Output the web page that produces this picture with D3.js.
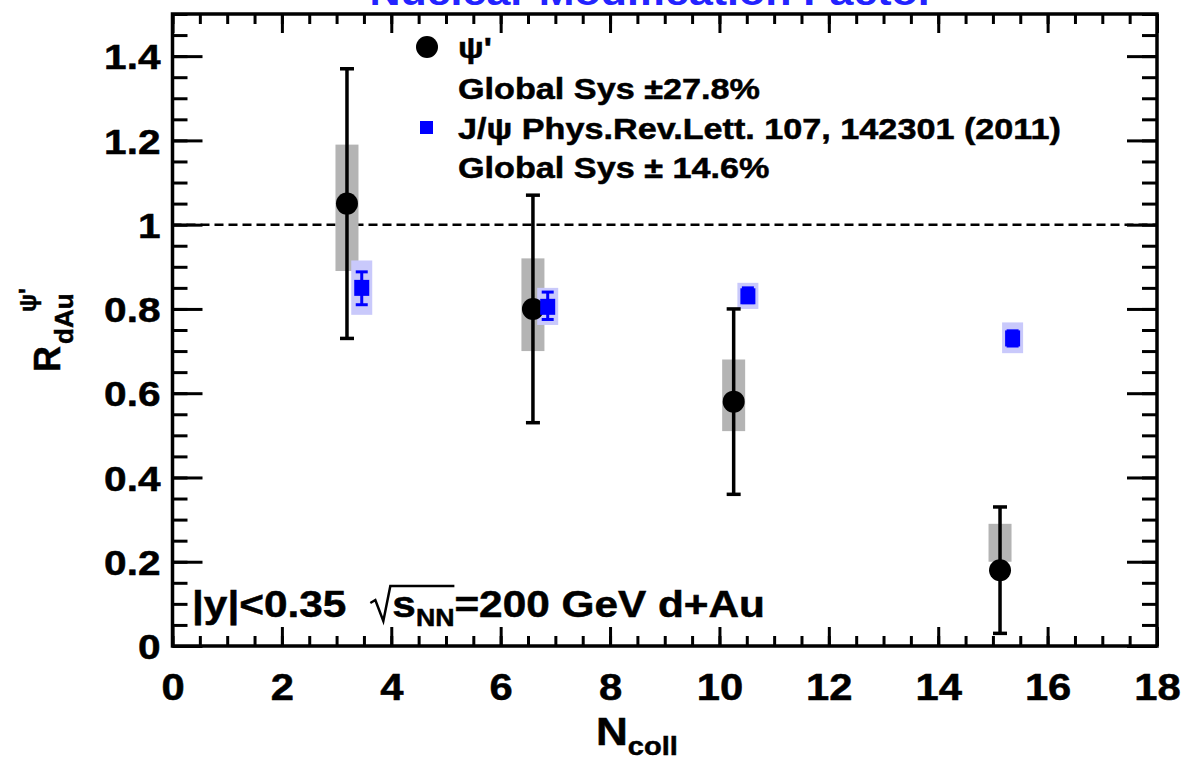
<!DOCTYPE html>
<html>
<head>
<meta charset="utf-8">
<script src="https://cdn.jsdelivr.net/npm/d3@7"></script>
<style>
  html, body { margin: 0; padding: 0; background: #ffffff; }
  svg { display: block; }
  text { font-family: "Liberation Sans", Arial, Helvetica, sans-serif; font-weight: bold; fill: #000; }
  text.ink { stroke: #000; stroke-width: 0.5px; }
</style>
</head>
<body>
<svg id="chart" width="1183" height="760"></svg>
<script>
// psi' nuclear modification factor vs number of binary collisions
const psiNcoll   = [3.19, 6.59, 10.26, 15.13];
const psiR       = [1.05, 0.80, 0.58, 0.18];
const psiStatLo  = [0.73, 0.53, 0.36, 0.03];
const psiStatHi  = [1.37, 1.07, 0.80, 0.33];
const psiSysLo   = [0.89, 0.70, 0.51, 0.20];
const psiSysHi   = [1.19, 0.92, 0.68, 0.29];

// J/psi reference points (PRL 107, 142301)
const jpsiNcoll  = [3.46, 6.86, 10.52, 15.36];
const jpsiR      = [0.85, 0.805, 0.83, 0.73];
const jpsiStatLo = [0.81, 0.775, 0.815, 0.712];
const jpsiStatHi = [0.888, 0.84, 0.85, 0.748];
const jpsiSysLo  = [0.786, 0.762, 0.80, 0.695];
const jpsiSysHi  = [0.915, 0.85, 0.862, 0.768];

const xTickValues = [0, 2, 4, 6, 8, 10, 12, 14, 16, 18];
const xTickLabels = ["0", "2", "4", "6", "8", "10", "12", "14", "16", "18"];
const yTickValues = [0, 0.2, 0.4, 0.6, 0.8, 1.0, 1.2, 1.4];
const yTickLabels = ["0", "0.2", "0.4", "0.6", "0.8", "1", "1.2", "1.4"];
const xDomain = [0, 18];
const yDomain = [0, 1.5];
const unityLine = 1;

const svg = d3.select("#chart");
const W = 1183, H = 760;
const plot = { left: 172.5, right: 1157, top: 14, bottom: 646 };
// glyphs are drawn a little wider than tall, like the rest of the figure
const SX = 1.16;

const x = d3.scaleLinear().domain(xDomain).range([plot.left, plot.right]);
const y = d3.scaleLinear().domain(yDomain).range([plot.bottom, plot.top]);

svg.append("rect").attr("width", W).attr("height", H).attr("fill", "#ffffff");

// place a text element at (tx, ty) with the horizontal stretch applied
function stretched(sel, tx, ty, sx = SX) {
  return sel.attr("x", 0).attr("y", 0)
    .attr("transform", `translate(${tx},${ty}) scale(${sx},1)`);
}

// Title (sits mostly above the canvas)
stretched(svg.append("text"), 652, 5)
  .attr("text-anchor", "middle")
  .style("font-size", "37px")
  .style("fill", "#2323ff")
  .text("Nuclear Modification Factor");

// Minor and major ticks on all four sides
const xMinor = d3.range(xDomain[0], xDomain[1] + 1e-9, 0.5);
const yMinor = d3.range(yDomain[0], yDomain[1] + 1e-9, 0.05);

function tickAxis(axisFn, scale, values, size, transform, fmt) {
  const a = axisFn(scale).tickValues(values).tickSizeInner(size).tickSizeOuter(0);
  if (fmt) a.tickFormat(fmt); else a.tickFormat("");
  const g = svg.append("g").attr("transform", transform).call(a);
  g.select(".domain").remove();
  g.selectAll(".tick line").attr("stroke", "#000").attr("stroke-width", 3);
  return g;
}

// bottom
tickAxis(d3.axisBottom, x, xMinor, -10, `translate(0,${plot.bottom})`);
const xAx = tickAxis(d3.axisBottom, x, xTickValues, -19, `translate(0,${plot.bottom})`,
  (d, i) => xTickLabels[i]);
xAx.selectAll(".tick text").each(function () {
  stretched(d3.select(this), 0, 54).attr("dy", 0);
}).attr("class", "ink").style("font-size", "36px").style("font-family", "Liberation Sans, Arial, sans-serif")
  .style("font-weight", "bold").attr("fill", "#000");
// top
tickAxis(d3.axisTop, x, xMinor, -10, `translate(0,${plot.top})`);
tickAxis(d3.axisTop, x, xTickValues, -19, `translate(0,${plot.top})`);
// left
tickAxis(d3.axisLeft, y, yMinor, -15, `translate(${plot.left},0)`);
const yAx = tickAxis(d3.axisLeft, y, yTickValues, -30, `translate(${plot.left},0)`,
  (d, i) => yTickLabels[i]);
yAx.selectAll(".tick text").each(function () {
  stretched(d3.select(this), -12, 0).attr("dy", "0.36em");
}).attr("class", "ink").style("font-size", "35px").style("font-family", "Liberation Sans, Arial, sans-serif")
  .style("font-weight", "bold").attr("fill", "#000");
// right
tickAxis(d3.axisRight, y, yMinor, -15, `translate(${plot.right},0)`);
tickAxis(d3.axisRight, y, yTickValues, -30, `translate(${plot.right},0)`);

// frame
svg.append("rect")
  .attr("x", plot.left).attr("y", plot.top)
  .attr("width", plot.right - plot.left).attr("height", plot.bottom - plot.top)
  .attr("fill", "none").attr("stroke", "#000").attr("stroke-width", 3.5);

// dashed line at R = 1
svg.append("line")
  .attr("x1", x(xDomain[0])).attr("x2", x(xDomain[1]))
  .attr("y1", y(unityLine)).attr("y2", y(unityLine))
  .attr("stroke", "#000").attr("stroke-width", 2.5)
  .attr("stroke-dasharray", "9,5");

// build point records
const psi = psiNcoll.map((n, i) => ({ n, r: psiR[i], lo: psiStatLo[i], hi: psiStatHi[i], slo: psiSysLo[i], shi: psiSysHi[i] }));
const jpsi = jpsiNcoll.map((n, i) => ({ n, r: jpsiR[i], lo: jpsiStatLo[i], hi: jpsiStatHi[i], slo: jpsiSysLo[i], shi: jpsiSysHi[i] }));

// systematic boxes
svg.append("g").selectAll("rect").data(psi).join("rect")
  .attr("x", d => x(d.n) - 11.5).attr("width", 23)
  .attr("y", d => y(d.shi)).attr("height", d => y(d.slo) - y(d.shi))
  .attr("fill", "#b4b4b4");
svg.append("g").selectAll("rect").data(jpsi).join("rect")
  .attr("x", d => x(d.n) - 10.5).attr("width", 21)
  .attr("y", d => y(d.shi)).attr("height", d => y(d.slo) - y(d.shi))
  .attr("fill", "#c9c9fb");

// statistical error bars with caps
function errorBars(data, color, lw, capW) {
  const g = svg.append("g").attr("stroke", color).attr("stroke-width", lw);
  g.selectAll("line.v").data(data).join("line").attr("class", "v")
    .attr("x1", d => x(d.n)).attr("x2", d => x(d.n))
    .attr("y1", d => y(d.lo)).attr("y2", d => y(d.hi));
  g.selectAll("line.capLo").data(data).join("line").attr("class", "capLo")
    .attr("x1", d => x(d.n) - capW / 2).attr("x2", d => x(d.n) + capW / 2)
    .attr("y1", d => y(d.lo)).attr("y2", d => y(d.lo));
  g.selectAll("line.capHi").data(data).join("line").attr("class", "capHi")
    .attr("x1", d => x(d.n) - capW / 2).attr("x2", d => x(d.n) + capW / 2)
    .attr("y1", d => y(d.hi)).attr("y2", d => y(d.hi));
}
errorBars(psi, "#000", 3.5, 14);
errorBars(jpsi, "#0000ff", 3, 12);

// markers
svg.append("g").selectAll("circle").data(psi).join("circle")
  .attr("cx", d => x(d.n)).attr("cy", d => y(d.r)).attr("r", 11)
  .attr("fill", "#000");
svg.append("g").selectAll("rect").data(jpsi).join("rect")
  .attr("x", d => x(d.n) - 7.5).attr("y", d => y(d.r) - 8)
  .attr("width", 15).attr("height", 16)
  .attr("fill", "#0000ff");

// Legend
const leg = svg.append("g");
const LSX = 1.14;
leg.append("circle").attr("cx", 427).attr("cy", 47).attr("r", 11).attr("fill", "#000");
stretched(leg.append("text"), 458, 58, LSX).attr("class", "ink").style("font-size", "30px").text("\u03C8'");
stretched(leg.append("text"), 458, 99, LSX).attr("class", "ink").style("font-size", "30px").text("Global Sys \u00B127.8%");
leg.append("rect").attr("x", 420).attr("y", 121).attr("width", 13).attr("height", 13).attr("fill", "#0000ff");
stretched(leg.append("text"), 458, 139, LSX).attr("class", "ink").style("font-size", "30px").text("J/\u03C8 Phys.Rev.Lett. 107, 142301 (2011)");
stretched(leg.append("text"), 458, 178, LSX).attr("class", "ink").style("font-size", "30px").text("Global Sys \u00B1 14.6%");

// Kinematic annotation with a drawn square root
const ann = svg.append("g");
let cx = 192;
const base = 617;
function piece(txt, size, dy) {
  const t = stretched(ann.append("text"), cx, base + dy).attr("class", "ink").style("font-size", size + "px").text(txt);
  const w = t.node().getComputedTextLength() * SX;
  cx += w;
  return w;
}
piece("|y|<0.35", 36.5, 0);
cx += 24;
const rootStart = cx;
cx += 22;
piece("s", 36.5, 0);
piece("NN", 23, 9);
ann.append("path")
  .attr("d", `M${rootStart},${base - 14} L${rootStart + 5},${base - 17} L${rootStart + 13},${base + 4} L${rootStart + 20},${base - 31} L${cx},${base - 31}`)
  .attr("fill", "none").attr("stroke", "#000").attr("stroke-width", 2.5);
piece("=200 GeV d+Au", 36.5, 0);

// Axis titles
const xt = svg.append("g");
const nT = stretched(xt.append("text"), 596, 745).attr("class", "ink").style("font-size", "38px").text("N");
const nW = nT.node().getComputedTextLength() * SX;
stretched(xt.append("text"), 596 + nW, 755).attr("class", "ink").style("font-size", "25px").text("coll");

const yt = svg.append("g").attr("transform", "translate(60,372) rotate(-90)");
const rT = yt.append("text").attr("class", "ink").attr("x", 0).attr("y", 0).style("font-size", "36px").text("R");
const rW = rT.node().getComputedTextLength();
yt.append("text").attr("class", "ink").attr("x", rW + 2).attr("y", 13).style("font-size", "26px").text("dAu");
yt.append("text").attr("class", "ink").attr("x", rW + 34).attr("y", -24).style("font-size", "24px").text("\u03C8'");
</script>
</body>
</html>
